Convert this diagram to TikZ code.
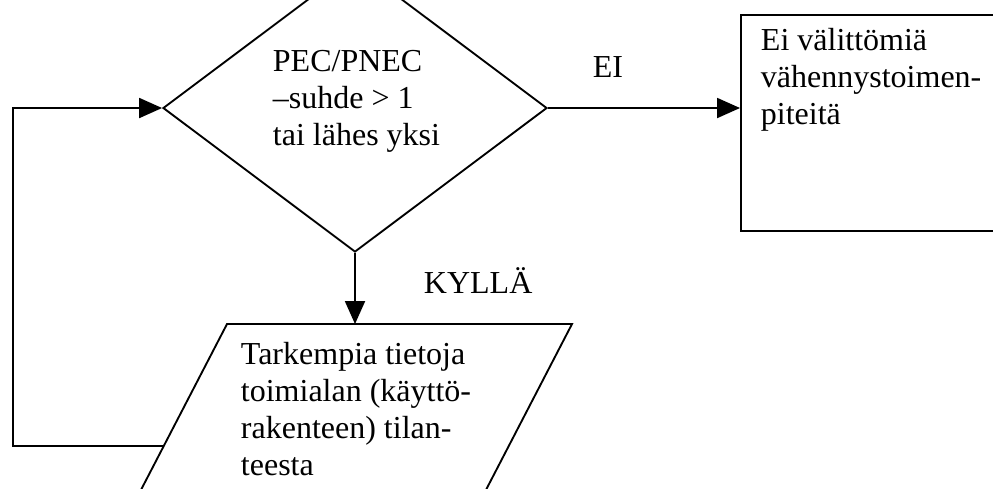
\documentclass[tikz,border=0pt]{standalone}
\usepackage{fontspec}
\setmainfont{Liberation Serif}
\usetikzlibrary{arrows.meta,shapes.geometric}
\begin{document}
\begin{tikzpicture}[x=0.375pt,y=-0.375pt,
  line width=0.7pt,
  arr/.style={-{Triangle[length=8.6pt,width=7.5pt]}},
  txt/.style={anchor=base west,inner sep=0pt,align=left,font=\fontsize{12}{13.8}\selectfont},
  lbl/.style={anchor=base west,inner sep=0pt,font=\fontsize{12}{13.8}\selectfont}]
\useasboundingbox (0,0) rectangle (993,488);
\clip (0,0) rectangle (993,488);
% decision diamond
\node[draw,diamond,inner sep=0pt,minimum width=144pt,minimum height=108pt] (dia) at (355,108) {};
% text nodes anchored at the baseline of their last line
\node[txt] (diat) at (272,145.4) {PEC/PNEC\\–suhde > 1\\tai lähes yksi};
% right box
\node[draw,rectangle,anchor=north west,inner sep=0pt,minimum width=110pt,minimum height=81pt] (box) at (740,14) {};
\node[txt] (boxt) at (760,124.4) {Ei välittömiä\\vähennystoimen-\\piteitä};
% parallelogram
\coordinate (p1) at (227,324);
\coordinate (p2) at (572,324);
\coordinate (p3) at (460,540);
\coordinate (p4) at (115,540);
\draw (p1) -- (p2) -- (p3) -- (p4) -- cycle;
\node[txt] (part) at (240,475.1) {Tarkempia tietoja\\toimialan (käyttö-\\rakenteen) tilan-\\teesta};
\coordinate (partop) at (355,324);
\coordinate (parleft) at (163.4,446);
\coordinate (loopc) at (13,446);
% connectors
\draw[arr] (dia.east) -- (box.west |- dia.east);
\node[lbl] (ei) at (592,77) {EI};
\draw[arr] (dia.south) -- (partop);
\node[lbl] (kylla) at (423,293) {KYLLÄ};
\draw[arr] (parleft) -- (loopc) |- (dia.west);
\end{tikzpicture}
\end{document}
